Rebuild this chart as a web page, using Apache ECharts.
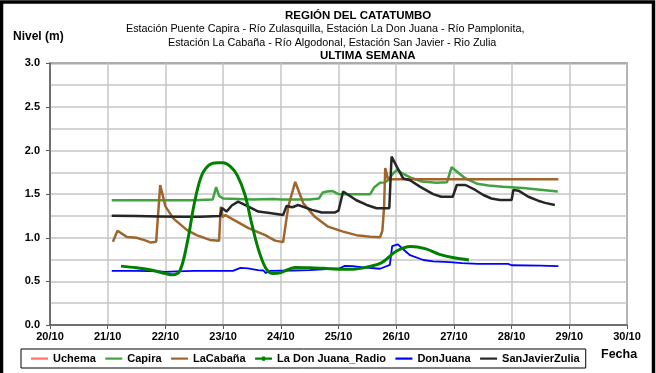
<!DOCTYPE html>
<html>
<head>
<meta charset="utf-8">
<script src="https://cdn.jsdelivr.net/npm/echarts@6/dist/echarts.min.js"></script>
<style>
  html, body { margin: 0; padding: 0; background: #fff; }
  #chart { width: 656px; height: 373px; }
</style>
</head>
<body>
<div id="chart"></div>
<script>
// Tick labels along the date axis (day of October)
const xTickLabels = ['20/10', '21/10', '22/10', '23/10', '24/10', '25/10', '26/10', '27/10', '28/10', '29/10', '30/10'];
const xStart = 20;
const xEnd = 30;

const seriesNames = ['Uchema', 'Capira', 'LaCabaña', 'La Don Juana_Radio', 'DonJuana', 'SanJavierZulia'];

// Level readings as [day of October (fractional), level in m]
const uchema = [];

const capira = [
  [21.07, 1.43], [21.5, 1.43], [22.0, 1.43], [22.5, 1.43], [22.82, 1.44], [22.88, 1.58], [22.93, 1.48],
  [23.0, 1.45], [23.5, 1.44], [23.87, 1.445], [24.0, 1.44], [24.5, 1.44], [24.66, 1.45], [24.73, 1.52],
  [24.8, 1.53], [24.9, 1.535], [25.0, 1.50], [25.3, 1.50], [25.55, 1.50], [25.62, 1.58], [25.72, 1.63],
  [25.8, 1.635], [25.86, 1.66], [25.95, 1.74], [26.02, 1.78], [26.1, 1.74], [26.25, 1.69], [26.45, 1.645],
  [26.7, 1.63], [26.88, 1.635], [26.96, 1.81], [27.05, 1.76], [27.2, 1.68], [27.4, 1.62], [27.6, 1.60],
  [27.85, 1.585], [28.2, 1.57], [28.5, 1.55], [28.8, 1.53]
];

const laCabana = [
  [21.09, 0.955], [21.17, 1.08], [21.33, 1.01], [21.5, 1.0], [21.65, 0.97], [21.75, 0.945], [21.84, 0.955],
  [21.91, 1.605], [22.0, 1.36], [22.14, 1.22], [22.37, 1.09], [22.54, 1.03], [22.77, 0.975], [22.93, 0.965],
  [22.96, 1.357], [22.99, 1.24], [23.04, 1.26], [23.2, 1.2], [23.44, 1.11], [23.73, 1.03], [23.9, 0.967],
  [24.04, 0.95], [24.13, 1.36], [24.25, 1.64], [24.39, 1.395], [24.59, 1.24], [24.82, 1.127], [25.08, 1.07],
  [25.31, 1.03], [25.55, 1.013], [25.72, 1.005], [25.76, 1.08], [25.79, 1.35], [25.81, 1.8], [25.84, 1.82],
  [25.86, 1.67], [28.81, 1.67]
];

const donJuanaRadio = [
  [21.23, 0.675], [21.5, 0.655], [21.75, 0.63], [22.0, 0.59], [22.12, 0.575], [22.25, 0.62], [22.38, 0.95],
  [22.5, 1.39], [22.62, 1.70], [22.75, 1.83], [22.9, 1.86], [23.0, 1.86], [23.12, 1.82], [23.25, 1.71],
  [23.38, 1.49], [23.5, 1.15], [23.62, 0.85], [23.75, 0.64], [23.87, 0.59], [24.0, 0.60], [24.25, 0.66],
  [24.5, 0.655], [24.75, 0.65], [25.0, 0.64], [25.25, 0.64], [25.5, 0.665], [25.75, 0.715], [26.0, 0.845],
  [26.25, 0.90], [26.5, 0.875], [26.75, 0.81], [27.0, 0.77], [27.26, 0.745]
];

const donJuana = [
  [21.07, 0.62], [21.5, 0.62], [21.9, 0.615], [22.0, 0.61], [22.2, 0.615], [22.5, 0.62], [23.0, 0.62],
  [23.17, 0.62], [23.3, 0.655], [23.43, 0.65], [23.6, 0.63], [23.7, 0.625], [23.74, 0.595], [23.8, 0.62],
  [24.2, 0.625], [24.5, 0.63], [24.88, 0.645], [25.0, 0.645], [25.11, 0.677], [25.25, 0.675], [25.43, 0.66],
  [25.72, 0.645], [25.89, 0.69], [25.93, 0.905], [26.03, 0.925], [26.1, 0.88], [26.24, 0.80], [26.47, 0.745],
  [26.64, 0.73], [26.93, 0.72], [27.14, 0.71], [27.42, 0.70], [27.94, 0.70], [28.0, 0.685], [28.5, 0.68],
  [28.81, 0.675]
];

const sanJavierZulia = [
  [21.07, 1.253], [21.5, 1.25], [21.9, 1.245], [22.3, 1.24], [22.6, 1.24], [22.95, 1.25], [22.98, 1.34],
  [23.06, 1.30], [23.15, 1.37], [23.26, 1.415], [23.44, 1.357], [23.61, 1.30], [23.84, 1.28], [24.04, 1.26],
  [24.07, 1.265], [24.1, 1.365], [24.2, 1.35], [24.3, 1.376], [24.54, 1.32], [24.71, 1.29], [24.94, 1.29],
  [25.0, 1.31], [25.08, 1.53], [25.31, 1.43], [25.49, 1.376], [25.66, 1.338], [25.88, 1.338], [25.92, 1.93],
  [26.01, 1.815], [26.12, 1.68], [26.24, 1.66], [26.41, 1.586], [26.64, 1.50], [26.78, 1.47], [26.98, 1.47],
  [27.05, 1.605], [27.2, 1.605], [27.37, 1.548], [27.51, 1.49], [27.65, 1.45], [27.8, 1.433], [28.0, 1.433],
  [28.03, 1.548], [28.12, 1.54], [28.29, 1.47], [28.46, 1.425], [28.58, 1.40], [28.75, 1.376]
];

const seriesData = [uchema, capira, laCabana, donJuanaRadio, donJuana, sanJavierZulia];
const seriesColors = ['#ff7171', '#3fa33f', '#a0652d', '#008000', '#0000ff', '#262626'];
const seriesWidths = [2, 2.5, 2.5, 3, 1.8, 2.5];

const FONT = 'Liberation Sans, Arial, sans-serif';

// Legend glyphs: a plain stroke, and a stroke with a marker for the radio station
const ICON_LINE = 'path://M0,0 M17,10 M0,4 L17,4 L17,6.2 L0,6.2 Z';
const ICON_LINE_MARK = 'path://M0,0 M17,10 M0,4 L17,4 L17,6.2 L0,6.2 Z M7,3 L10,3 L10,7.2 L7,7.2 Z';

const chart = echarts.init(document.getElementById('chart'), null, { renderer: 'canvas' });

const series = seriesNames.map((name, i) => {
  const isRadio = name === 'La Don Juana_Radio';
  return {
    name: name,
    type: 'line',
    data: seriesData[i],
    color: seriesColors[i],
    lineStyle: { width: seriesWidths[i], color: seriesColors[i] },
    symbol: isRadio ? 'circle' : 'none',
    symbolSize: 4,
    showSymbol: false,
    smooth: isRadio ? 0.35 : false,
    animation: false,
    z: isRadio ? 3 : 2
  };
});

const titleLines = [
  { text: 'REGIÓN DEL CATATUMBO', left: 285, top: 9.5, bold: true },
  { text: 'Estación Puente Capira - Río Zulasquilla, Estación La Don Juana - Río Pamplonita,', left: 126, top: 23.5, bold: false },
  { text: 'Estación La Cabaña - Río Algodonal, Estación San Javier - Rio Zulia', left: 168, top: 37.5, bold: false },
  { text: 'ULTIMA SEMANA', left: 320, top: 50, bold: true }
];

chart.setOption({
  backgroundColor: '#ffffff',
  animation: false,
  title: titleLines.map(t => ({
    text: t.text,
    left: t.left,
    top: t.top,
    padding: 0,
    textStyle: {
      fontFamily: FONT,
      fontSize: t.bold ? 11.5 : 10.8,
      fontWeight: t.bold ? 'bold' : 'normal',
      color: '#000'
    }
  })),
  graphic: [
    {
      type: 'rect',
      shape: { x: 1.5, y: 2, width: 652, height: 390 },
      style: { fill: 'none', stroke: '#000', lineWidth: 3.5 },
      silent: true
    },
    {
      type: 'text', left: 13, top: 31,
      style: { text: 'Nivel (m)', font: 'bold 12px ' + FONT, fill: '#000' }
    },
    {
      type: 'text', left: 601, top: 348.5,
      style: { text: 'Fecha', font: 'bold 12.5px ' + FONT, fill: '#000' }
    }
  ],
  grid: {
    left: 50, right: 29, top: 63.3, bottom: 48,
    show: true, borderColor: '#5a5a5a', borderWidth: 1.5, backgroundColor: 'transparent'
  },
  legend: {
    data: seriesNames.map(name => ({
      name: name,
      icon: name === 'La Don Juana_Radio' ? ICON_LINE_MARK : ICON_LINE
    })),
    left: 21, top: 349,
    orient: 'horizontal',
    padding: [4, 6, 4, 10],
    itemGap: 9.5,
    itemWidth: 17,
    itemHeight: 10,
    borderColor: '#000',
    borderWidth: 1,
    itemStyle: { borderWidth: 0 },
    textStyle: { fontFamily: FONT, fontSize: 11, fontWeight: 'bold', color: '#000' }
  },
  xAxis: {
    type: 'value',
    min: xStart, max: xEnd, interval: 1,
    axisLine: { show: true, onZero: false, lineStyle: { color: '#5a5a5a', width: 1.5 } },
    axisTick: { show: true, length: 4, lineStyle: { color: '#5a5a5a' } },
    axisLabel: {
      margin: 6,
      fontFamily: FONT, fontSize: 11, fontWeight: 'bold', color: '#000',
      formatter: v => xTickLabels[Math.round(v - xStart)]
    },
    splitLine: { show: true, lineStyle: { color: '#c6c6c6', width: 1.5 } }
  },
  yAxis: {
    type: 'value',
    min: 0, max: 3, interval: 0.5,
    axisLine: { show: true, lineStyle: { color: '#5a5a5a', width: 1.5 } },
    axisTick: { show: true, length: 4, lineStyle: { color: '#5a5a5a' } },
    minorTick: { show: false, splitNumber: 2 },
    minorSplitLine: { show: true, lineStyle: { color: '#c6c6c6', width: 1.5 } },
    axisLabel: {
      margin: 10,
      fontFamily: FONT, fontSize: 11, fontWeight: 'bold', color: '#000',
      formatter: v => v.toFixed(1)
    },
    splitLine: { show: true, lineStyle: { color: '#c6c6c6', width: 1.5 } }
  },
  series: series
});
</script>
</body>
</html>
